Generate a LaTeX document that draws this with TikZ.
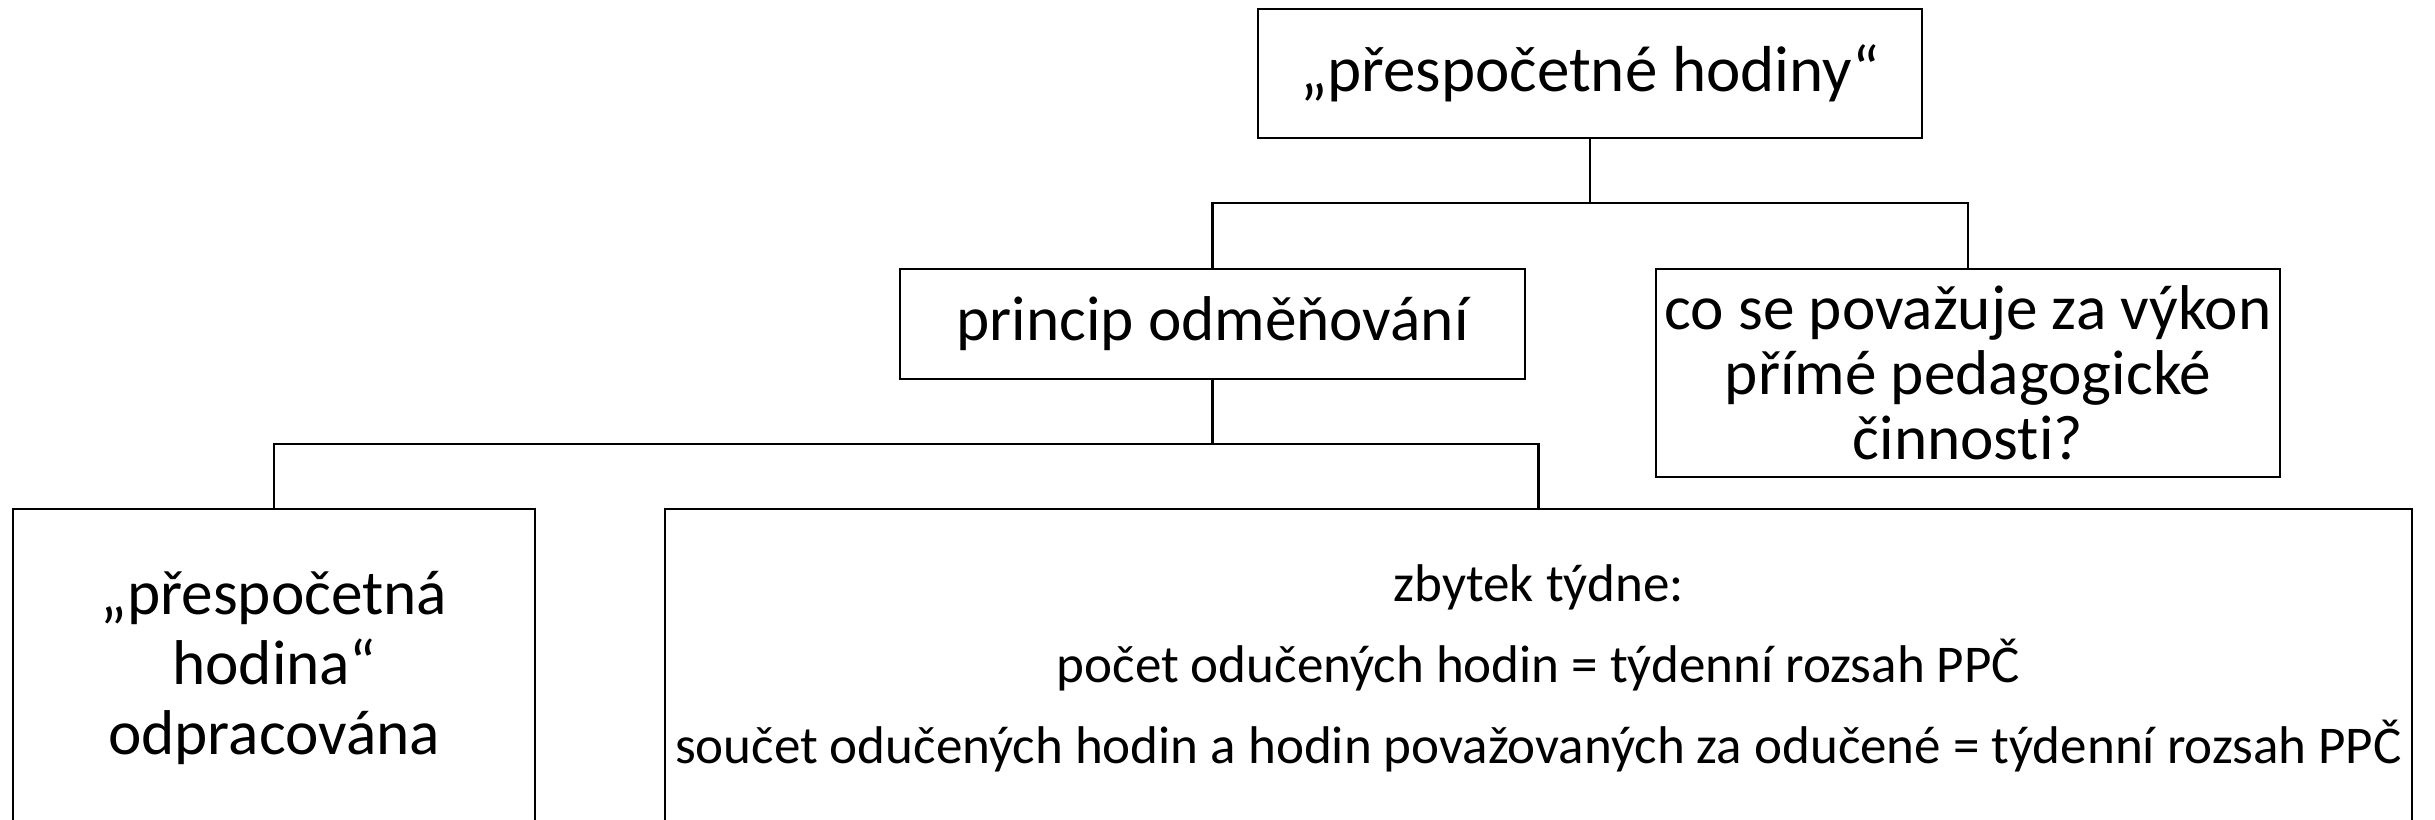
\documentclass[tikz,border=0pt]{standalone}
\usepackage{fontspec}
\setmainfont{Carlito}[Ligatures={TeX,NoCommon}]
\usetikzlibrary{positioning,calc}

\begin{document}
\begin{tikzpicture}[
  font=\fontsize{18}{20}\selectfont,
  box/.style={rectangle,draw=black,line width=0.8pt,fill=white,
              align=center,inner sep=0pt},
  link/.style={draw=black,line width=0.6pt}
]
% canvas 24.35 x 8.19 cm, origin at the top left
\path[use as bounding box,fill=white] (0,0) rectangle (24.35,-8.19);

% --- level 1
\node[box,minimum width=66.4mm,minimum height=12.9mm,
      font=\fontsize{18.5}{20}\selectfont] (hod) at (15.90,-0.735)
     {„přespočetné hodiny“};

% --- level 2
\node[box,minimum width=62.5mm,minimum height=11mm] (princip) at (12.125,-3.24)
     {princip odměňování};
\node[box,minimum width=62.4mm,minimum height=20.8mm,
      font=\fontsize{18}{18.5}\selectfont] (vykon) at (19.68,-3.73)
     {co se považuje za výkon\\přímé pedagogické\\činnosti?};

% --- level 3 (cut by the page edge)
\node[box,minimum width=52.2mm,minimum height=31.8mm,
      font=\fontsize{18}{19.9}\selectfont] (odprac) at (2.74,-6.68)
     {„přespočetná\\hodina“\\odpracována};
\node[box,minimum width=174.7mm,minimum height=31.8mm,
      font=\fontsize{15.1}{23}\selectfont] (zbytek) at (15.385,-6.68)
     {zbytek týdne:\\
      počet odučených hodin = týdenní rozsah PPČ\\
      součet odučených hodin a hodin považovaných za odučené = týdenní rozsah PPČ};

% --- connectors
\coordinate (bar1) at ([yshift=-6.4mm] hod.south);
\coordinate (bar2) at ([yshift=-6.4mm] princip.south);
\draw[link] (hod.south) -- (bar1);
\draw[link] (princip.north) |- (bar1) -| (vykon.north);
\draw[link] (princip.south) -- (bar2);
\draw[link] (odprac.north) |- (bar2) -| (zbytek.north);
\end{tikzpicture}
\end{document}
